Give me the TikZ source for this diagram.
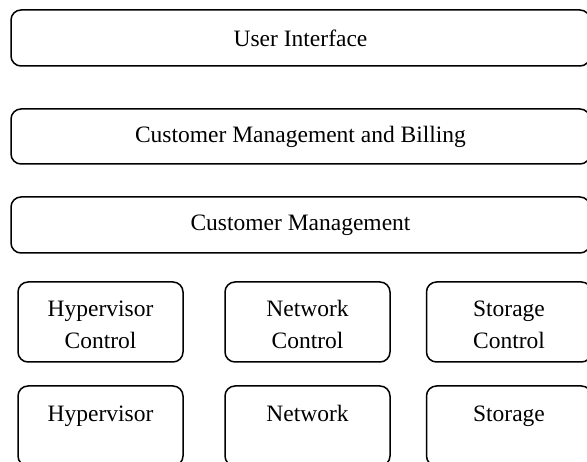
\documentclass[tikz,border=0pt]{standalone}
\usepackage{fontspec}
\setmainfont{Liberation Serif}
\begin{document}
\begin{tikzpicture}[x=1pt,y=1pt,
  layer/.style={draw, line width=1.5pt, rounded corners=10pt, minimum width=579pt, minimum height=56pt, inner sep=0pt, font=\fontsize{23.5}{32}\selectfont},
  comp/.style={draw, line width=1.5pt, rounded corners=10pt, minimum width=165pt, minimum height=80pt, inner sep=0pt, align=center, font=\fontsize{23.5}{32}\selectfont}]
\useasboundingbox (0,0) rectangle (587,-462);
\clip (0,0) rectangle (587,-462);
\node[layer] (ui) at (300.5,-38) {User Interface};
\node[layer, minimum height=55pt] (cmb) at (300.5,-136.5) {Customer Management and Billing};
\node[layer] (cm) at (300.5,-225) {Customer Management};
\node[comp] (hc) at (100.5,-322) {};
\node[comp] (nc) at (307.5,-322) {};
\node[comp] (sc) at (509,-322) {};
\node[comp] (hv) at (100.5,-426) {};
\node[comp] (nw) at (307.5,-426) {};
\node[comp] (st) at (509,-426) {};
\begin{scope}[every node/.style={font=\fontsize{23.5}{32}\selectfont, inner sep=0pt, anchor=base}]
\node (hct1) at (100.5,-317) {Hypervisor};
\node (hct2) at (100.5,-349) {Control};
\node (nct1) at (307.5,-317) {Network};
\node (nct2) at (307.5,-349) {Control};
\node (sct1) at (509,-317) {Storage};
\node (sct2) at (509,-349) {Control};
\node (hvt) at (100.5,-422) {Hypervisor};
\node (nwt) at (307.5,-422) {Network};
\node (stt) at (509,-422) {Storage};
\end{scope}
\end{tikzpicture}
\end{document}
